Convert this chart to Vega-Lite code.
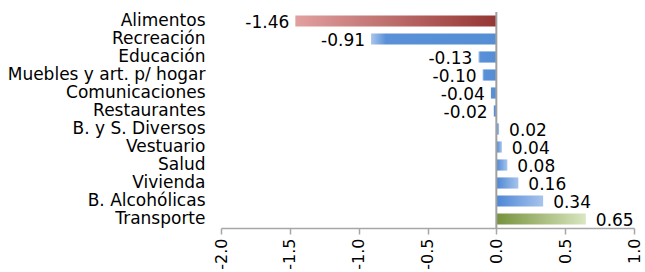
{
  "$schema": "https://vega.github.io/schema/vega-lite/v6.json",
  "width": 413,
  "height": 216,
  "autosize": "none",
  "padding": {"left": 221, "top": 12, "right": 11, "bottom": 44},
  "background": "white",
  "config": {"view": {"stroke": null}, "font": "DejaVu Sans",
    "locale": {"number": {"decimal": ".", "thousands": ",", "grouping": [3], "currency": ["$", ""], "minus": "-"}}},
  "data": {"values": [
    {"cat": "Alimentos", "v": -1.46},
    {"cat": "Recreación", "v": -0.91},
    {"cat": "Educación", "v": -0.13},
    {"cat": "Muebles y art. p/ hogar", "v": -0.10},
    {"cat": "Comunicaciones", "v": -0.04},
    {"cat": "Restaurantes", "v": -0.02},
    {"cat": "B. y S. Diversos", "v": 0.02},
    {"cat": "Vestuario", "v": 0.04},
    {"cat": "Salud", "v": 0.08},
    {"cat": "Vivienda", "v": 0.16},
    {"cat": "B. Alcohólicas", "v": 0.34},
    {"cat": "Transporte", "v": 0.65}
  ]},
  "layer": [
    {
      "transform": [{"filter": "datum.cat === 'Alimentos'"}],
      "mark": {"type": "bar", "color": {"gradient": "linear", "x1": 0, "x2": 1, "y1": 0, "y2": 0, "stops": [{"offset": 0, "color": "#e1a09f"}, {"offset": 1, "color": "#943634"}]}},
      "encoding": {
        "y": {"field": "cat", "type": "nominal", "title": null,
          "scale": {"domain": ["Alimentos", "Recreación", "Educación", "Muebles y art. p/ hogar", "Comunicaciones", "Restaurantes", "B. y S. Diversos", "Vestuario", "Salud", "Vivienda", "B. Alcohólicas", "Transporte"], "paddingInner": 0.38, "paddingOuter": 0.19},
          "axis": {"ticks": false, "domain": false, "labelPadding": 16, "labelFontSize": 17, "labelColor": "#000", "labelFont": "DejaVu Sans", "labelLimit": 300}},
        "x": {"field": "v", "type": "quantitative", "title": null,
          "scale": {"domain": [-2, 1], "nice": false},
          "axis": {"values": [-2, -1.5, -1, -0.5, 0, 0.5, 1], "format": ".1f", "labelAngle": -90, "grid": false,
            "domainColor": "#a6a6a6", "domainWidth": 1.5, "tickColor": "#a6a6a6", "tickSize": 6, "tickWidth": 1.5,
            "labelFontSize": 16, "labelColor": "#000", "labelPadding": 4, "labelFont": "DejaVu Sans"}}
      }
    },
    {
      "transform": [{"filter": "datum.cat === 'Transporte'"}],
      "mark": {"type": "bar", "color": {"gradient": "linear", "x1": 0, "x2": 1, "y1": 0, "y2": 0, "stops": [{"offset": 0, "color": "#76923c"}, {"offset": 1, "color": "#d9e6c0"}]}},
      "encoding": {
        "y": {"field": "cat", "type": "nominal"},
        "x": {"field": "v", "type": "quantitative"}
      }
    },
    {
      "transform": [{"filter": "datum.cat !== 'Alimentos' && datum.v < 0"}],
      "mark": {"type": "bar", "color": {"gradient": "linear", "x1": 0, "x2": 1, "y1": 0, "y2": 0, "stops": [{"offset": 0, "color": "#a9c5ec"}, {"offset": 0.12, "color": "#5990d8"}, {"offset": 1, "color": "#558ed5"}]}},
      "encoding": {
        "y": {"field": "cat", "type": "nominal"},
        "x": {"field": "v", "type": "quantitative"}
      }
    },
    {
      "transform": [{"filter": "datum.cat !== 'Transporte' && datum.v > 0"}],
      "mark": {"type": "bar", "color": {"gradient": "linear", "x1": 0, "x2": 1, "y1": 0, "y2": 0, "stops": [{"offset": 0, "color": "#4c86d5"}, {"offset": 1, "color": "#a7c4ec"}]}},
      "encoding": {
        "y": {"field": "cat", "type": "nominal"},
        "x": {"field": "v", "type": "quantitative"}
      }
    },
    {
      "transform": [{"filter": "datum.v < 0"}],
      "mark": {"type": "text", "align": "right", "baseline": "middle", "dx": -6, "dy": 2, "fontSize": 17, "color": "#000"},
      "encoding": {
        "y": {"field": "cat", "type": "nominal"},
        "x": {"field": "v", "type": "quantitative"},
        "text": {"field": "v", "type": "quantitative", "format": ".2f"}
      }
    },
    {
      "transform": [{"filter": "datum.v > 0"}],
      "mark": {"type": "text", "align": "left", "baseline": "middle", "dx": 10, "dy": 2, "fontSize": 17, "color": "#000"},
      "encoding": {
        "y": {"field": "cat", "type": "nominal"},
        "x": {"field": "v", "type": "quantitative"},
        "text": {"field": "v", "type": "quantitative", "format": ".2f"}
      }
    },
    {
      "mark": {"type": "rule", "color": "#a0a0a0", "strokeWidth": 2},
      "data": {"values": [{"z": 0}]},
      "encoding": {"x": {"field": "z", "type": "quantitative"}}
    }
  ]
}
